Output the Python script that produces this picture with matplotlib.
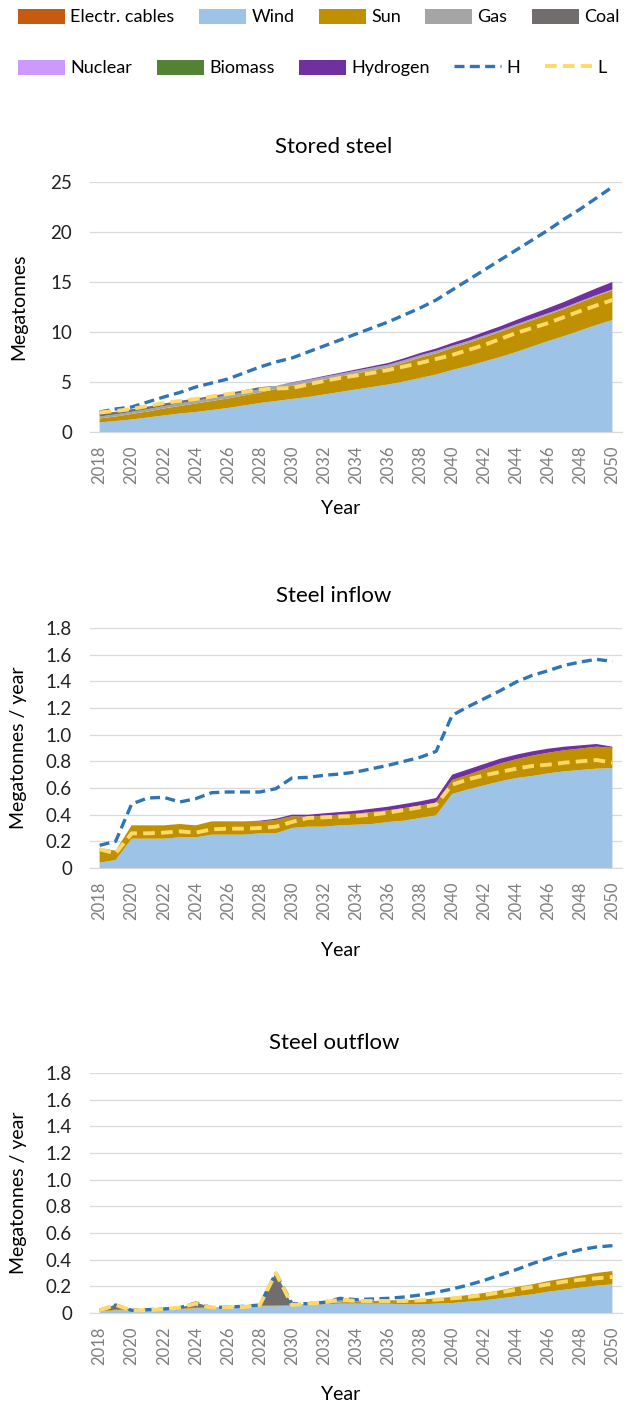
import matplotlib

matplotlib.use("Agg")
import matplotlib.pyplot as plt
from matplotlib.lines import Line2D
from matplotlib.patches import Patch
from matplotlib.ticker import FuncFormatter, MultipleLocator

plt.rcParams["font.family"] = ["Lato", "DejaVu Sans"]

YEARS = list(range(2018, 2051))
XTICKS = list(range(2018, 2051, 2))

SERIES = ["Electr. cables", "Wind", "Sun", "Gas", "Coal", "Nuclear", "Biomass", "Hydrogen"]
COLORS = ["#c55a11", "#9dc3e6", "#bf9000", "#a5a5a5", "#716d6d", "#cc99ff", "#548235", "#7030a0"]
H_COLOR = "#2e75b6"
L_COLOR = "#ffd966"

ZEROS = [0.0] * 33

# Stored steel (Mt)
stored_wind = [0.95, 1.1, 1.25, 1.45, 1.65, 1.85, 2.0, 2.2, 2.4, 2.65, 2.9, 3.1, 3.3, 3.5, 3.75, 4.0,
               4.25, 4.5, 4.75, 5.05, 5.4, 5.75, 6.2, 6.6, 7.05, 7.5, 8.0, 8.55, 9.1, 9.6, 10.15, 10.7, 11.2]
stored_sun = [0.4, 0.45, 0.55, 0.6, 0.7, 0.75, 0.85, 0.9, 0.95, 1.0, 1.05, 1.2, 1.32, 1.4, 1.47, 1.53,
              1.6, 1.66, 1.72, 1.88, 2.04, 2.12, 2.2, 2.3, 2.41, 2.51, 2.61, 2.63, 2.64, 2.72, 2.81, 2.88, 2.95]
stored_gas = [0.2, 0.21, 0.22, 0.23, 0.24, 0.26, 0.28, 0.29, 0.3, 0.31, 0.32, 0.31, 0.3, 0.3, 0.3, 0.29,
              0.28, 0.27, 0.26, 0.25, 0.24, 0.23, 0.22, 0.2, 0.19, 0.17, 0.16, 0.15, 0.14, 0.13, 0.12, 0.11, 0.1]
stored_coal = [0.3, 0.26, 0.26, 0.26, 0.26, 0.26, 0.22, 0.22, 0.22, 0.22, 0.22, 0.0, 0.0, 0.0, 0.0, 0.0,
               0.0, 0.0, 0.0, 0.0, 0.0, 0.0, 0.0, 0.0, 0.0, 0.0, 0.0, 0.0, 0.0, 0.0, 0.0, 0.0, 0.0]
stored_hydrogen = [0.0, 0.0, 0.0, 0.0, 0.0, 0.0, 0.0, 0.0, 0.0, 0.0, 0.0, 0.0, 0.05, 0.065, 0.08, 0.1,
                   0.12, 0.145, 0.17, 0.195, 0.22, 0.25, 0.28, 0.315, 0.35, 0.39, 0.43, 0.475, 0.52, 0.57,
                   0.62, 0.68, 0.75]
stored_h = [2.0, 2.3, 2.5, 3.0, 3.5, 3.95, 4.5, 4.9, 5.3, 5.9, 6.5, 7.0, 7.4, 8.0, 8.6, 9.2, 9.8, 10.4,
            11.0, 11.7, 12.4, 13.2, 14.2, 15.2, 16.2, 17.2, 18.2, 19.2, 20.2, 21.3, 22.3, 23.4, 24.5]
stored_l = [1.95, 2.1, 2.3, 2.6, 2.9, 3.1, 3.3, 3.55, 3.8, 4.0, 4.25, 4.35, 4.4, 4.75, 5.1, 5.4, 5.65,
            5.9, 6.2, 6.55, 6.9, 7.3, 7.7, 8.2, 8.7, 9.3, 9.9, 10.4, 10.9, 11.5, 12.1, 12.65, 13.2]

# Steel inflow (Mt / year)
inflow_wind = [0.04, 0.06, 0.22, 0.22, 0.22, 0.23, 0.23, 0.25, 0.25, 0.25, 0.26, 0.26, 0.30, 0.31, 0.31,
               0.32, 0.325, 0.33, 0.345, 0.355, 0.375, 0.395, 0.555, 0.59, 0.62, 0.65, 0.675, 0.69, 0.71,
               0.725, 0.735, 0.745, 0.75]
inflow_sun = [0.11, 0.07, 0.10, 0.10, 0.10, 0.10, 0.09, 0.10, 0.10, 0.10, 0.09, 0.10, 0.088, 0.075,
              0.082, 0.08, 0.083, 0.09, 0.088, 0.095, 0.093, 0.095, 0.105, 0.11, 0.122, 0.134, 0.141,
              0.153, 0.155, 0.158, 0.161, 0.165, 0.152]
inflow_hydrogen = [0.0, 0.0, 0.0, 0.0, 0.0, 0.0, 0.0, 0.0, 0.0, 0.0, 0.005, 0.01, 0.012, 0.015, 0.018,
                   0.02, 0.022, 0.025, 0.027, 0.03, 0.032, 0.035, 0.04, 0.04, 0.038, 0.036, 0.034, 0.032,
                   0.03, 0.027, 0.024, 0.02, 0.008]
inflow_h = [0.17, 0.2, 0.48, 0.525, 0.53, 0.495, 0.52, 0.565, 0.57, 0.57, 0.57, 0.595, 0.675, 0.68,
            0.695, 0.705, 0.72, 0.745, 0.77, 0.8, 0.83, 0.875, 1.145, 1.21, 1.27, 1.33, 1.395, 1.445,
            1.48, 1.52, 1.545, 1.565, 1.55]
inflow_l = [0.14, 0.11, 0.26, 0.26, 0.265, 0.275, 0.265, 0.29, 0.295, 0.295, 0.30, 0.31, 0.345, 0.375,
            0.38, 0.385, 0.39, 0.40, 0.415, 0.435, 0.455, 0.475, 0.625, 0.665, 0.695, 0.72, 0.745,
            0.765, 0.775, 0.79, 0.80, 0.81, 0.79]

# Steel outflow (Mt / year)
outflow_wind = [0.01, 0.02, 0.02, 0.02, 0.025, 0.03, 0.035, 0.035, 0.04, 0.045, 0.05, 0.05, 0.055, 0.06,
                0.065, 0.07, 0.07, 0.07, 0.07, 0.065, 0.065, 0.07, 0.075, 0.085, 0.095, 0.11, 0.125,
                0.14, 0.16, 0.175, 0.19, 0.205, 0.215]
outflow_sun = [0.005, 0.005, 0.005, 0.005, 0.005, 0.005, 0.005, 0.005, 0.005, 0.005, 0.005, 0.005,
               0.005, 0.005, 0.005, 0.01, 0.015, 0.02, 0.025, 0.03, 0.035, 0.04, 0.045, 0.05, 0.055,
               0.06, 0.07, 0.075, 0.08, 0.085, 0.09, 0.095, 0.10]
outflow_gas = [0.0, 0.0, 0.0, 0.0, 0.0, 0.0, 0.0, 0.0, 0.0, 0.0, 0.0, 0.0, 0.0, 0.0, 0.01, 0.03, 0.01,
               0.0, 0.0, 0.0, 0.0, 0.0, 0.0, 0.0, 0.0, 0.0, 0.0, 0.0, 0.0, 0.0, 0.0, 0.0, 0.0]
outflow_coal = [0.0, 0.04, 0.0, 0.0, 0.0, 0.0, 0.04, 0.0, 0.0, 0.0, 0.0, 0.25, 0.0, 0.0, 0.0, 0.0, 0.0,
                0.0, 0.0, 0.0, 0.0, 0.0, 0.0, 0.0, 0.0, 0.0, 0.0, 0.0, 0.0, 0.0, 0.0, 0.0, 0.0]
outflow_nuclear = [0.0, 0.0, 0.0, 0.0, 0.0, 0.0, 0.0, 0.0, 0.0, 0.0, 0.0, 0.0, 0.0, 0.0, 0.0, 0.01, 0.0,
                   0.0, 0.0, 0.0, 0.0, 0.0, 0.0, 0.0, 0.0, 0.0, 0.0, 0.0, 0.0, 0.0, 0.0, 0.0, 0.0]
outflow_h = [0.02, 0.06, 0.02, 0.025, 0.03, 0.04, 0.075, 0.04, 0.045, 0.05, 0.06, 0.30, 0.07, 0.07,
             0.08, 0.11, 0.10, 0.105, 0.11, 0.12, 0.135, 0.155, 0.18, 0.21, 0.245, 0.285, 0.325, 0.37,
             0.41, 0.445, 0.475, 0.495, 0.505]
outflow_l = [0.02, 0.06, 0.02, 0.02, 0.03, 0.04, 0.07, 0.04, 0.045, 0.045, 0.06, 0.30, 0.06, 0.07, 0.08,
             0.10, 0.09, 0.09, 0.09, 0.09, 0.095, 0.10, 0.11, 0.12, 0.135, 0.155, 0.175, 0.195, 0.215,
             0.235, 0.25, 0.26, 0.27]

W, H = 630, 1406
LEFT, RIGHT = 90, 622


def add_panel(fig, top, bottom, title, title_y, xlabel_y, ylabel, stacks, h_line, l_line, ymax, step, fmt):
    ax = fig.add_axes([LEFT / W, 1 - bottom / H, (RIGHT - LEFT) / W, (bottom - top) / H])
    ax.stackplot(YEARS, *stacks, colors=COLORS, linewidth=0)
    ax.plot(YEARS, h_line, color=H_COLOR, lw=2.4, dashes=(3, 1.6), zorder=4)
    ax.plot(YEARS, l_line, color=L_COLOR, lw=2.8, dashes=(3, 1.6), zorder=5)
    ax.set_xlim(2017.4, 2050.6)
    ax.set_ylim(0, ymax)
    ax.yaxis.set_major_locator(MultipleLocator(step))
    ax.yaxis.set_major_formatter(FuncFormatter(fmt))
    ax.set_xticks(XTICKS)
    ax.set_xticklabels([str(y) for y in XTICKS], rotation=90, color="#7f7f7f", fontsize=12)
    ax.tick_params(axis="x", length=0, pad=10)
    ax.tick_params(axis="y", length=0, pad=13, labelsize=13.5, labelcolor="#222222")
    ax.grid(axis="y", color="#d9d9d9", linewidth=0.9)
    ax.set_axisbelow(True)
    for side in ["top", "right", "left"]:
        ax.spines[side].set_visible(False)
    ax.spines["bottom"].set_color("#d9d9d9")
    ax.set_ylabel(ylabel, fontsize=14)
    ax.yaxis.set_label_coords(-0.118, 0.5)
    fig.text(0.53, 1 - title_y / H, title, ha="center", va="center", fontsize=16)
    fig.text(0.54, 1 - xlabel_y / H, "Year", ha="center", va="center", fontsize=14)
    return ax


def int_fmt(v, pos):
    return f"{v:.0f}"


def dec_fmt(v, pos):
    return "0" if abs(v) < 1e-9 else f"{v:.1f}"


fig = plt.figure(figsize=(W / 100, H / 100), dpi=100)

add_panel(fig, 182, 432, "Stored steel", 147, 508, "Megatonnes",
          [ZEROS, stored_wind, stored_sun, stored_gas, stored_coal, ZEROS, ZEROS, stored_hydrogen],
          stored_h, stored_l, 25, 5, int_fmt)
add_panel(fig, 628, 868, "Steel inflow", 596, 950, "Megatonnes / year",
          [ZEROS, inflow_wind, inflow_sun, ZEROS, ZEROS, ZEROS, ZEROS, inflow_hydrogen],
          inflow_h, inflow_l, 1.8, 0.2, dec_fmt)
add_panel(fig, 1073, 1313, "Steel outflow", 1043, 1395, "Megatonnes / year",
          [ZEROS, outflow_wind, outflow_sun, outflow_gas, outflow_coal, outflow_nuclear, ZEROS, ZEROS],
          outflow_h, outflow_l, 1.8, 0.2, dec_fmt)

patches = [Patch(facecolor=c, label=s) for s, c in zip(SERIES, COLORS)]
lines = [Line2D([], [], color=H_COLOR, lw=2.4, dashes=(3, 1.6), label="H"),
         Line2D([], [], color=L_COLOR, lw=2.8, dashes=(3, 1.6), label="L")]
legend_kw = dict(frameon=False, ncol=5, fontsize=13, handlelength=2.6, handleheight=0.9,
                 handletextpad=0.3, columnspacing=1.35, borderaxespad=0, borderpad=0)
fig.legend(handles=patches[:5], loc="center left", bbox_to_anchor=(18 / W, 1 - 17 / H), **legend_kw)
fig.legend(handles=patches[5:] + lines, loc="center left", bbox_to_anchor=(18 / W, 1 - 68 / H), **legend_kw)

fig.savefig("out.png", dpi=100, facecolor="white")
